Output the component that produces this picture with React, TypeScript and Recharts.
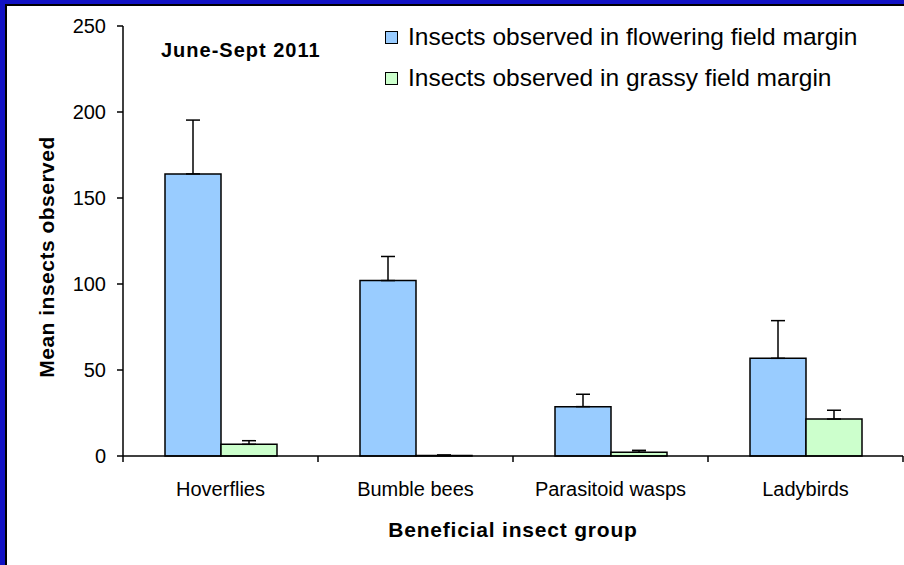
import { BarChart, Bar, XAxis, YAxis, ErrorBar, Legend, Label } from "recharts"

const groups = ["Hoverflies", "Bumble bees", "Parasitoid wasps", "Ladybirds"]
const flowering = [164, 102, 28.7, 56.8]
const floweringErr = [31.3, 14, 7.2, 21.9]
const grassy = [6.8, 0.3, 2.2, 21.5]
const grassyErr = [2.1, 0.3, 1.1, 5.1]
const yTicks = [0, 50, 100, 150, 200, 250]

const seriesNames = {
  flowering: "Insects observed in flowering field margin",
  grassy: "Insects observed in grassy field margin"
}

const colors = {
  flowering: "#99ccff",
  grassy: "#ccffcc"
}

const chartData = groups.map((g, i) => ({
  group: g,
  flowering: flowering[i],
  floweringErr: [0, floweringErr[i]],
  grassy: grassy[i],
  grassyErr: [0, grassyErr[i]]
}))

const font = "'Liberation Sans', Arial, sans-serif"

function CategoryTick(props: any) {
  const { x, y, payload, index } = props
  const half = payload?.offset ?? 0
  return (
    <g>
      {index === 0 && (
        <line x1={x - half} x2={x - half} y1={y} y2={y + 6} stroke="#000" strokeWidth={1.5} />
      )}
      <line x1={x + half} x2={x + half} y1={y} y2={y + 6} stroke="#000" strokeWidth={1.5} />
      <text x={x} y={y + 40} textAnchor="middle" fontSize={20} fill="#000">
        {payload.value}
      </text>
    </g>
  )
}

function LegendBox(props: any) {
  const items = props.payload ?? []
  return (
    <div style={{ fontFamily: font, fontSize: 24.5, color: "#000" }}>
      {items.map((it: any) => (
        <div
          key={it.value}
          style={{ display: "flex", alignItems: "center", height: 41, whiteSpace: "nowrap" }}
        >
          <span
            style={{
              display: "inline-block",
              boxSizing: "border-box",
              width: 13,
              height: 13,
              border: "1.5px solid #000",
              background: it.color,
              marginRight: 10,
              position: "relative",
              top: 1
            }}
          />
          <span>{it.value}</span>
        </div>
      ))}
    </div>
  )
}

export default function App() {
  return (
    <div
      style={{
        position: "fixed",
        left: 0,
        top: 0,
        width: 904,
        height: 565,
        background: "#fff",
        fontFamily: font,
        overflow: "hidden"
      }}
    >
      <BarChart
        width={904}
        height={565}
        data={chartData}
        margin={{ top: 26, right: 1, bottom: 0, left: 63 }}
        barGap={0}
      >
        <XAxis
          dataKey="group"
          height={109}
          interval={0}
          tickLine={false}
          tickSize={0}
          tickMargin={0}
          axisLine={{ stroke: "#000", strokeWidth: 1.5 }}
          tick={<CategoryTick />}
        >
          <Label
            content={(p: any) => {
              const vb = p.viewBox
              return (
                <text
                  x={vb.x + vb.width / 2}
                  y={vb.y + 81}
                  textAnchor="middle"
                  fontSize={21}
                  fontWeight="bold"
                  letterSpacing={0.8}
                  fill="#000"
                >
                  Beneficial insect group
                </text>
              )
            }}
          />
        </XAxis>
        <YAxis
          width={60}
          domain={[0, 250]}
          ticks={yTicks}
          interval={0}
          tickSize={6}
          tickMargin={11}
          tick={{ fill: "#000", fontSize: 20 }}
          tickLine={{ stroke: "#000", strokeWidth: 1.5 }}
          axisLine={{ stroke: "#000", strokeWidth: 1.5 }}
        >
          <Label
            content={(p: any) => {
              const vb = p.viewBox
              const cx = vb.x - 9
              const cy = vb.y + vb.height / 2 + 16
              return (
                <text
                  x={cx}
                  y={cy}
                  transform={`rotate(-90 ${cx} ${cy})`}
                  textAnchor="middle"
                  fontSize={21}
                  fontWeight="bold"
                  letterSpacing={0.5}
                  fill="#000"
                >
                  Mean insects observed
                </text>
              )
            }}
          />
        </YAxis>
        <Legend
          layout="vertical"
          align="center"
          verticalAlign="middle"
          content={<LegendBox />}
          wrapperStyle={{ top: 16, left: 385, width: "auto" }}
        />
        <Bar
          dataKey="flowering"
          name={seriesNames.flowering}
          fill={colors.flowering}
          stroke="#000"
          strokeWidth={1.5}
          barSize={56}
          isAnimationActive={false}
        >
          <ErrorBar dataKey="floweringErr" width={7} stroke="#000" strokeWidth={1.5} />
        </Bar>
        <Bar
          dataKey="grassy"
          name={seriesNames.grassy}
          fill={colors.grassy}
          stroke="#000"
          strokeWidth={1.5}
          barSize={56}
          isAnimationActive={false}
        >
          <ErrorBar dataKey="grassyErr" width={7} stroke="#000" strokeWidth={1.5} />
        </Bar>
      </BarChart>
      <div
        style={{
          position: "absolute",
          left: 161,
          top: 40,
          fontSize: 20,
          lineHeight: "20px",
          fontWeight: "bold",
          letterSpacing: 1,
          color: "#000",
          whiteSpace: "nowrap"
        }}
      >
        June-Sept 2011
      </div>
      <div style={{ position: "absolute", left: 0, top: 0, width: 904, height: 4, background: "#1212c4" }} />
      <div style={{ position: "absolute", left: 0, top: 0, width: 5, height: 565, background: "#1212c4" }} />
      <div style={{ position: "absolute", left: 5, top: 4, width: 899, height: 2, background: "#000" }} />
      <div style={{ position: "absolute", left: 5, top: 4, width: 2, height: 561, background: "#000" }} />
    </div>
  )
}
